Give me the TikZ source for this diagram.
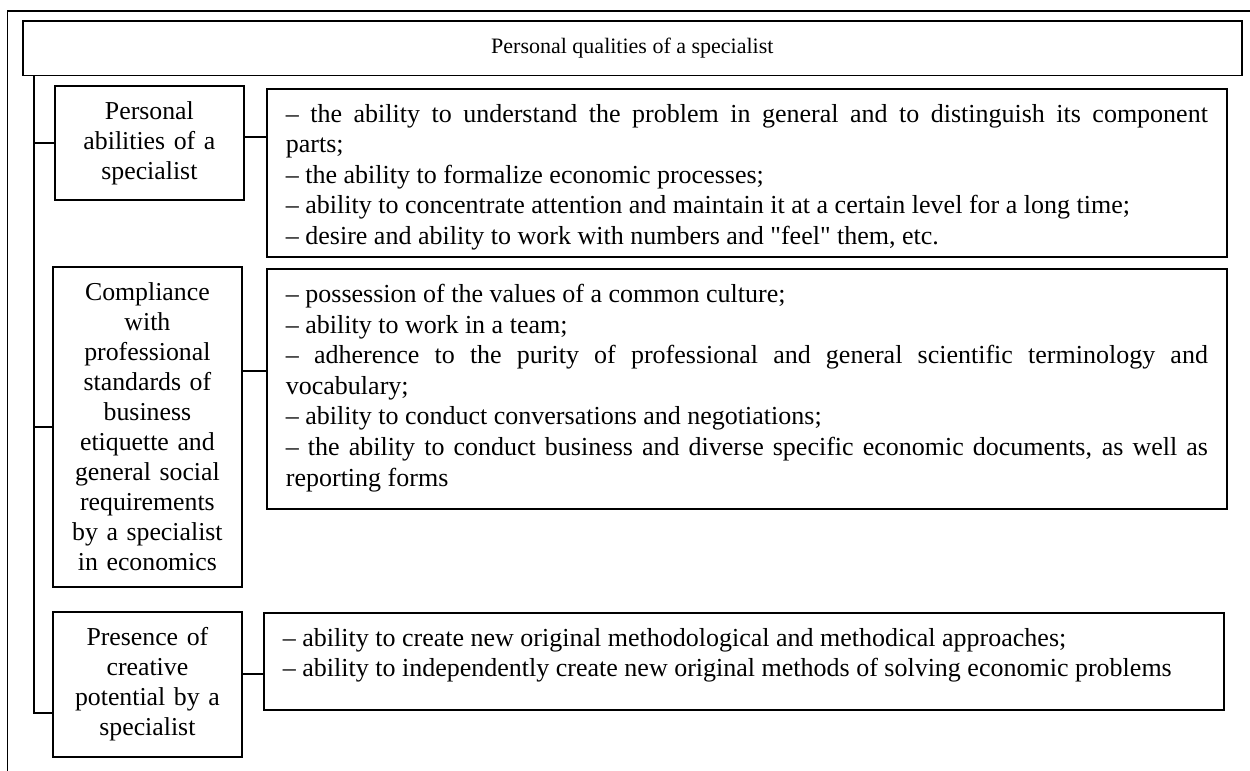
\documentclass[tikz,border=0pt]{standalone}
\usepackage{fontspec}
\setmainfont{Liberation Serif}
\newfontfamily\plainserif{Liberation Serif}

\begin{document}
\begin{tikzpicture}[x=0.5pt, y=-0.5pt, line width=0.9pt,
  head/.style={draw, minimum width=609.65pt, minimum height=27.25pt, inner sep=0pt, font=\fontsize{11}{13}\selectfont},
  lab/.style={draw, anchor=north west, align=center, text width=88.5pt, inner xsep=3pt, inner ysep=0pt, font=\fontsize{12.9}{15}\selectfont},
  txt/.style={draw, anchor=north west, inner xsep=9.5pt, inner ysep=7.6pt, font=\fontsize{13}{15.3}\selectfont}]

\useasboundingbox (0,0) rectangle (1250,771);
\draw (1250,11) -- (7.5,11) -- (7.5,771);

\node[head] (title) at (632.35,48.25) {Personal qualities of a specialist};

\node[lab, minimum height=57pt] (lab1) at (54,85) {Personal\\abilities of a\\specialist};
\node[lab, minimum height=160pt] (lab2) at (52,266) {Compliance\\with\\professional\\standards of\\business\\etiquette and\\general social\\requirements\\by a specialist\\in economics};
\node[lab, minimum height=72.5pt] (lab3) at (52,611) {Presence of\\creative\\potential by a\\specialist};

\node[txt] (txt1) at (266,88) {\parbox[t][68.8pt][t]{461pt}{\makebox[\linewidth][s]{-- the ability to understand the problem in general and to distinguish its component}\\
parts;\\
-- the ability to formalize economic processes;\\
-- ability to concentrate attention and maintain it at a certain level for a long time;\\
-- desire and ability to work with numbers and {\plainserif"}feel{\plainserif"} them, etc.\vss}};
\node[txt] (txt2) at (266,268) {\parbox[t][104.8pt][t]{461pt}{-- possession of the values of a common culture;\\
-- ability to work in a team;\\
\makebox[\linewidth][s]{-- adherence to the purity of professional and general scientific terminology and}\\
vocabulary;\\
-- ability to conduct conversations and negotiations;\\
\makebox[\linewidth][s]{-- the ability to conduct business and diverse specific economic documents, as well as}\\
reporting forms}};
\node[txt] (txt3) at (263,612) {\parbox[t][33.3pt][t]{461pt}{-- ability to create new original methodological and methodical approaches;\\
-- ability to independently create new original methods of solving economic problems}};

\coordinate (trunk) at ([xshift=6.15pt]title.south west);
\draw (trunk) |- ([yshift=-14.25pt]lab3.west);
\draw (lab1.west -| trunk) -- (lab1.west);
\draw (lab2.west -| trunk) -- (lab2.west);

\draw ([yshift=3pt]lab1.east) -- ([yshift=3pt]lab1.east -| txt1.west);
\draw ([yshift=28pt]lab2.east) -- ([yshift=28pt]lab2.east -| txt2.west);
\draw ([yshift=5.25pt]lab3.east) -- ([yshift=5.25pt]lab3.east -| txt3.west);
\end{tikzpicture}
\end{document}
